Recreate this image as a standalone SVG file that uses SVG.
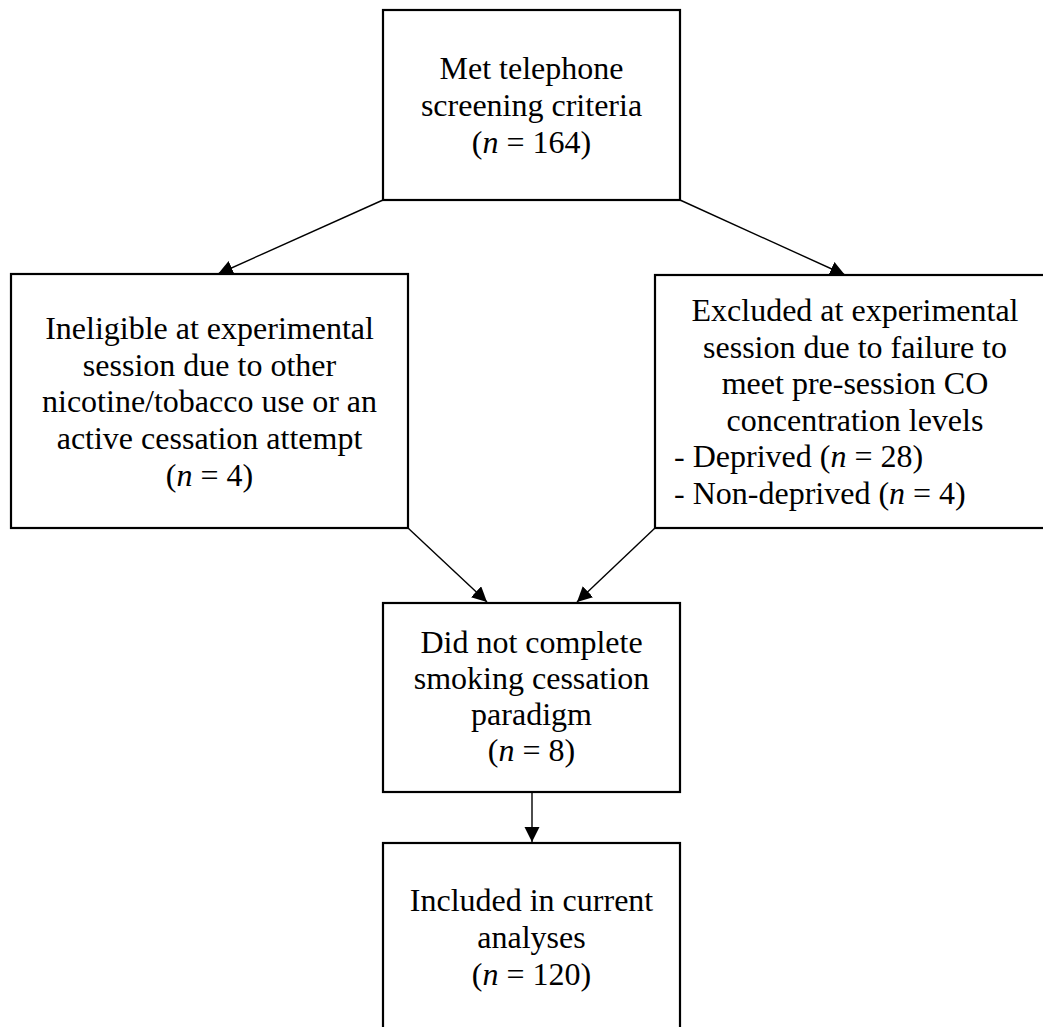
<svg xmlns="http://www.w3.org/2000/svg" width="1043" height="1027" viewBox="0 0 1043 1027">
<style>
.box{fill:#fff;stroke:#000;stroke-width:2.2}
.t{font-family:"Liberation Serif","Times New Roman",serif;font-size:32px;fill:#000;text-anchor:middle}
.l{text-anchor:start}
.i{font-style:italic}
.c{stroke:#000;stroke-width:1.4;fill:none}
</style>
<defs>
<marker id="ah" markerUnits="userSpaceOnUse" markerWidth="16" markerHeight="16" refX="15" refY="7.5" orient="auto">
<path d="M0,0 L15,7.5 L0,15 z" fill="#000"/>
</marker>
</defs>
<rect width="1043" height="1027" fill="#fff"/>
<g id="connectors">
<line class="c" x1="383" y1="200" x2="218" y2="274" marker-end="url(#ah)"/>
<line class="c" x1="680" y1="200" x2="845" y2="275" marker-end="url(#ah)"/>
<line class="c" x1="408" y1="528" x2="487" y2="602" marker-end="url(#ah)"/>
<line class="c" x1="655" y1="528" x2="577" y2="602" marker-end="url(#ah)"/>
<line class="c" x1="532" y1="792" x2="532" y2="842" marker-end="url(#ah)"/>
</g>
<g id="screened">
<rect class="box" x="383" y="10" width="297" height="190"/>
<text class="t" x="531.5" y="79">Met telephone</text>
<text class="t" x="531.5" y="116">screening criteria</text>
<text class="t" x="531.5" y="153">(<tspan class="i">n</tspan> = 164)</text>
</g>
<g id="ineligible">
<rect class="box" x="11" y="274" width="397" height="254"/>
<text class="t" x="209.5" y="339">Ineligible at experimental</text>
<text class="t" x="209.5" y="376">session due to other</text>
<text class="t" x="209.5" y="412">nicotine/tobacco use or an</text>
<text class="t" x="209.5" y="449">active cessation attempt</text>
<text class="t" x="209.5" y="486">(<tspan class="i">n</tspan> = 4)</text>
</g>
<g id="excluded">
<rect class="box" x="655" y="275" width="400" height="253"/>
<text class="t" x="855" y="321">Excluded at experimental</text>
<text class="t" x="855" y="357.5">session due to failure to</text>
<text class="t" x="855" y="394">meet pre-session CO</text>
<text class="t" x="855" y="430.5">concentration levels</text>
<text class="t l" x="674" y="467">- Deprived (<tspan class="i">n</tspan> = 28)</text>
<text class="t l" x="674" y="503.5">- Non-deprived (<tspan class="i">n</tspan> = 4)</text>
</g>
<g id="incomplete">
<rect class="box" x="383" y="603" width="297" height="189"/>
<text class="t" x="531.5" y="653">Did not complete</text>
<text class="t" x="531.5" y="689">smoking cessation</text>
<text class="t" x="531.5" y="725">paradigm</text>
<text class="t" x="531.5" y="761">(<tspan class="i">n</tspan> = 8)</text>
</g>
<g id="included">
<rect class="box" x="383" y="843" width="297" height="200"/>
<text class="t" x="531.5" y="911">Included in current</text>
<text class="t" x="531.5" y="948">analyses</text>
<text class="t" x="531.5" y="985">(<tspan class="i">n</tspan> = 120)</text>
</g>
</svg>
